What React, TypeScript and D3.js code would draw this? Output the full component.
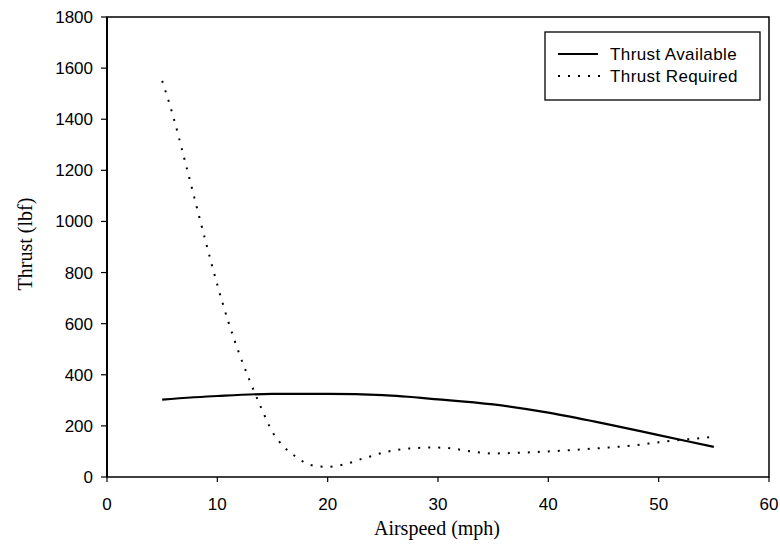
import React from "react";
import * as d3 from "d3";

const xTicks = [0, 10, 20, 30, 40, 50, 60];
const yTicks = [0, 200, 400, 600, 800, 1000, 1200, 1400, 1600, 1800];

const availSpeed = [5, 10, 15, 20, 25, 30, 35, 40, 45, 50, 55];
const availThrust = [303, 317, 325, 325, 320, 304, 284, 252, 210, 164, 118];

const reqSpeed = [5, 6, 7, 8, 9, 10, 11, 12, 13, 14, 15, 16, 17, 18, 19, 20, 21, 22, 23, 24, 25, 26, 27, 28, 29, 30, 31, 32, 33, 34, 35, 36, 38, 40, 42, 44, 46, 48, 50, 52, 54, 55];
const reqThrust = [1550, 1411, 1247, 1079, 912, 752, 607, 481, 370, 268, 176, 120, 83, 55, 42, 40, 45, 55, 70, 82, 95, 104, 110, 113, 115, 115, 113, 107, 100, 95, 92, 93, 96, 100, 105, 111, 117, 125, 136, 145, 153, 157];

const seriesNames = ["Thrust Available", "Thrust Required"];

export default function App() {
  const left = 107, right = 769, top = 17, bottom = 477;
  const x = d3.scaleLinear().domain([0, 60]).range([left, right]);
  const y = d3.scaleLinear().domain([0, 1800]).range([bottom, top]);

  const line = d3
    .line<[number, number]>()
    .x((d) => x(d[0]))
    .y((d) => y(d[1]))
    .curve(d3.curveMonotoneX);

  const availPath = line(availSpeed.map((s, i) => [s, availThrust[i]]) as [number, number][]) || "";
  const reqPath = line(reqSpeed.map((s, i) => [s, reqThrust[i]]) as [number, number][]) || "";

  const sans = "'Liberation Sans', Arial, Helvetica, sans-serif";
  const serif = "'Liberation Serif', 'Times New Roman', serif";

  return (
    <svg
      width={780}
      height={547}
      style={{ position: "absolute", left: 0, top: 0, background: "#fff" }}
    >
      <rect x={0} y={0} width={780} height={547} fill="#fff" />
      {/* frame */}
      <rect x={left} y={top} width={right - left} height={bottom - top} fill="none" stroke="#000" strokeWidth={1.5} />
      <line x1={left} x2={left} y1={top} y2={bottom} stroke="#000" strokeWidth={2} />

      {/* y ticks */}
      {yTicks.map((t) => (
        <g key={"y" + t}>
          <line x1={left - 6} x2={left} y1={y(t)} y2={y(t)} stroke="#000" strokeWidth={1.2} />
          <text
            x={93}
            y={y(t)}
            dy="0.35em"
            textAnchor="end"
            fontFamily={sans}
            fontSize={17}
            fill="#000"
          >
            {t}
          </text>
        </g>
      ))}

      {/* x ticks */}
      {xTicks.map((t) => (
        <g key={"x" + t}>
          <line x1={x(t)} x2={x(t)} y1={bottom} y2={bottom + 5} stroke="#000" strokeWidth={1.2} />
          <text x={x(t)} y={510} textAnchor="middle" fontFamily={sans} fontSize={17} fill="#000">
            {t}
          </text>
        </g>
      ))}

      {/* axis titles */}
      <text x={437} y={535} textAnchor="middle" fontFamily={serif} fontSize={20} fill="#000">
        Airspeed (mph)
      </text>
      <text
        transform={`translate(32,244) rotate(-90)`}
        textAnchor="middle"
        fontFamily={serif}
        fontSize={20}
        fill="#000"
      >
        Thrust (lbf)
      </text>

      {/* series */}
      <path d={availPath} fill="none" stroke="#000" strokeWidth={2.2} />
      <path d={reqPath} fill="none" stroke="#000" strokeWidth={2} strokeDasharray="2 8" />

      {/* legend */}
      <rect x={545} y={32} width={215} height={68} fill="#fff" stroke="#000" strokeWidth={1.3} />
      <line x1={558} x2={598} y1={54} y2={54} stroke="#000" strokeWidth={2.2} />
      <text x={610} y={60} fontFamily={sans} fontSize={17} letterSpacing={0.4} fill="#000">
        {seriesNames[0]}
      </text>
      <line x1={558} x2={600} y1={76} y2={76} stroke="#000" strokeWidth={2} strokeDasharray="2 8" />
      <text x={610} y={82} fontFamily={sans} fontSize={17} letterSpacing={0.4} fill="#000">
        {seriesNames[1]}
      </text>
    </svg>
  );
}
